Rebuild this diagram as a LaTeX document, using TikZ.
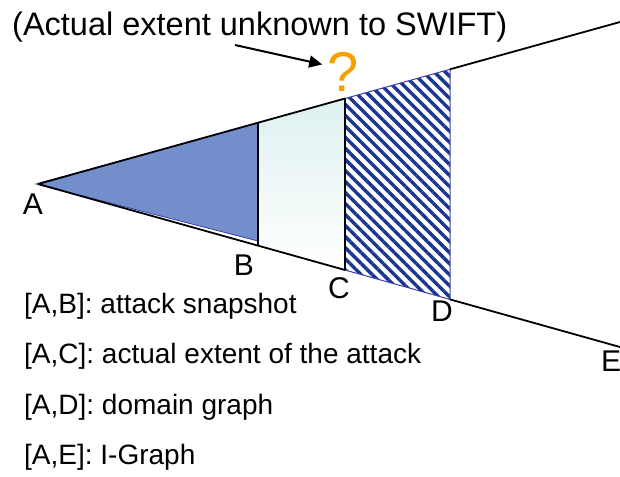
\documentclass[tikz,border=0pt]{standalone}
\usepackage{fontspec}
\setmainfont{Liberation Sans}
\usetikzlibrary{positioning, arrows.meta, patterns.meta, calc}

\begin{document}
\begin{tikzpicture}[x=1pt, y=-1pt, font=\fontsize{28}{30}\selectfont]

\definecolor{snapBlue}{RGB}{114,142,203}
\definecolor{extCyan}{RGB}{222,240,240}
\definecolor{hatchBlue}{RGB}{26,54,146}
\definecolor{edgeBlue}{RGB}{64,64,164}
\definecolor{qOrange}{RGB}{246,160,0}

\tikzset{
  cone/.style={line width=1.8pt, black},
  ptlabel/.style={font=\fontsize{30}{32}\selectfont, inner sep=0pt},
  legend/.style={anchor=base west, inner sep=0pt},
}

\useasboundingbox (0,0) rectangle (620,476);

% cone corners
\coordinate (pA)  at (38,184);
\coordinate (pBt) at (258,123);
\coordinate (pBb) at (258,245.6);
\coordinate (pCt) at (345,98.5);
\coordinate (pCb) at (345,270);
\coordinate (pDt) at (450,69.3);
\coordinate (pDb) at (450,299.4);
\coordinate (pUp) at (620,22);
\coordinate (pLo) at (620,347);

% [A,B] snapshot
\fill[snapBlue, draw=edgeBlue, line width=0.8pt] (36,184) -- (pBt) -- (258,241) -- cycle;

% [B,C] gradient
\shade[top color=extCyan, bottom color=white] (pBt) -- (pCt) -- (pCb) -- (pBb) -- cycle;

% [C,D] hatched
\fill[pattern={Lines[angle=-45, distance=7.8pt, line width=3.4pt]}, pattern color=hatchBlue]
  (pCt) -- (pDt) -- (pDb) -- (pCb) -- cycle;
\draw[edgeBlue, line width=1pt] (pCt) -- (pDt) -- (pDb) -- (pCb);

% cone edges
\draw[cone] (pA) -- (pCt);
\draw[cone] (pDt) -- (pUp);
\draw[cone] (pA) -- (pCb);
\draw[cone] (pDb) -- (pLo);
\draw[cone] (pBt) -- (pBb);
\draw[cone] (pCt) -- (pCb);

% point labels
\node[ptlabel] (labA) at (33,204) {A};
\node[ptlabel] (labB) at (244,265) {B};
\node[ptlabel] (labC) at (339,288) {C};
\node[ptlabel] (labD) at (442,311) {D};
\node[ptlabel] (labE) at (611,361) {E};

% question
\node[anchor=base west, inner sep=0pt, font=\fontsize{32.5}{34}\selectfont] (title) at (12,36)
  {(Actual extent unknown to SWIFT)};
\node[text=qOrange, inner sep=5pt, font=\fontsize{56}{58}\selectfont] (qmark) at (343,72) {?};
\coordinate (arrowtail) at (235,45);
\draw[line width=2pt, -{Triangle[length=13pt, width=12pt]}] (arrowtail) -- (qmark.160);

% legend
\node[legend] (legAB) at (24,313) {[A,B]: attack snapshot};
\node[legend] (legAC) at (24,363) {[A,C]: actual extent of the attack};
\node[legend] (legAD) at (24,414) {[A,D]: domain graph};
\node[legend] (legAE) at (24,464) {[A,E]: I-Graph};

\end{tikzpicture}
\end{document}
